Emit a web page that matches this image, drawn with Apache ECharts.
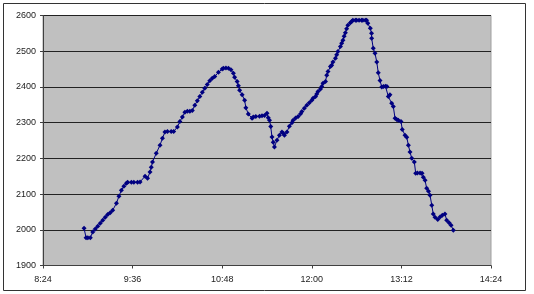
<!DOCTYPE html>
<html><head><meta charset="utf-8">
<script src="https://cdn.jsdelivr.net/npm/echarts@6/dist/echarts.min.js"></script>
<style>html,body{margin:0;padding:0;background:#fff}#c{width:534px;height:294px}</style>
</head><body><div id="c"></div>
<script>
// time in minutes since 0:00
var times = [537,538.6,540,542,544,546,548,550,552,554,556,558,560,563,565,567,569,571,572,575,577,580,582,586,588,590,591,592,595,598,600,602,604,607,609,612,614,616,618,620,622,624,626,628,630,632,634,636,638,640,642,645,648,649,651,653,655,657,658,660,661,662,664,666,667,669,672,673,675,678,680,682,684,685,686,687,688,689,690,692,694,696,697,698,700,702,704,705,707,709,711,712,714,716,718,720,721,723,724,725,727,728,729,731,732,733,735,736,737,739,740,741,743,744,745,746,747,748,749,751,752,753,755,756,758,760,761,763,764,765,767,768,768.1,769.4,770.8,772.2,773.4,774.8,776.2,777.6,779.2,780.4,781.5,782.8,784.2,785.5,786.9,788.2,789.5,791.7,792.7,794.9,796.3,797.6,798.9,800.3,802.4,803.5,804.9,807,808.6,809.6,811,812.3,813.8,815,816.4,817.6,819,821.2,823,824.9,827,828.4,830.3,831.9,833.7];
var prices = [2004,1978,1978,1978,1994,2002,2010,2018,2027,2035,2043,2048,2055,2074,2094,2111,2122,2130,2133,2133,2133,2133,2134,2150,2144,2162,2175,2190,2214,2237,2256,2274,2275,2275,2275,2288,2303,2316,2329,2332,2332,2334,2349,2361,2373,2385,2396,2407,2417,2424,2429,2441,2450,2452,2453,2452,2448,2438,2427,2415,2403,2391,2378,2363,2342,2324,2312,2316,2317,2318,2319,2320,2326,2314,2307,2289,2260,2245,2232,2251,2265,2274,2270,2265,2274,2290,2300,2307,2313,2317,2325,2331,2340,2349,2356,2363,2368,2373,2380,2387,2394,2401,2410,2415,2433,2443,2457,2461,2470,2480,2490,2499,2513,2522,2531,2542,2552,2563,2573,2580,2583,2587,2587,2587,2587,2587,2587,2587,2587,2578,2564,2550,2536,2508,2494,2470,2440,2418,2400,2401,2402,2401,2373,2378,2354,2345,2312,2309,2307,2303,2281,2265,2259,2237,2218,2200,2190,2158,2159,2159,2158,2147,2139,2116,2108,2097,2069,2044,2035,2029,2036,2041,2044,2027,2020,2013,1999];
var xMin = 504, xMax = 864, xStep = 72;
var yMin = 1900, yMax = 2600, yStep = 100;

function fmt(v){var h=Math.floor(v/60),m=Math.round(v%60);return h+':'+(m<10?'0'+m:m);}
var data = times.map(function(t,i){return [t,prices[i]];});
var chart = echarts.init(document.getElementById('c'));
chart.setOption({
  backgroundColor:'#ffffff',
  animation:false,
  graphic:[{type:'rect',shape:{x:3.5,y:3.5,width:522,height:287},style:{fill:'none',stroke:'#333',lineWidth:1},z:-1}],
  grid:{left:43,right:43,top:15.5,bottom:28.5,show:true,backgroundColor:'#c0c0c0',borderColor:'#a0a0a0',borderWidth:1},
  xAxis:{type:'value',min:xMin,max:xMax,interval:xStep,
    axisLine:{show:true,lineStyle:{color:'#404040',width:1}},
    axisTick:{show:true,length:3,inside:false,lineStyle:{color:'#404040'}},
    splitLine:{show:false},
    axisLabel:{formatter:fmt,fontSize:9,fontFamily:'Liberation Sans, Arial',color:'#222',margin:10}},
  yAxis:{type:'value',min:yMin,max:yMax,interval:yStep,
    axisLine:{show:true,lineStyle:{color:'#404040',width:1}},
    axisTick:{show:true,length:3,lineStyle:{color:'#404040'}},
    splitLine:{show:true,lineStyle:{color:'#222',width:1}},
    axisLabel:{formatter:function(v){return String(v);},fontSize:9,fontFamily:'Liberation Sans, Arial',color:'#222',margin:7}},
  series:[{type:'line',data:data,symbol:'diamond',symbolSize:5,showSymbol:true,
    lineStyle:{color:'#000080',width:1},itemStyle:{color:'#000080'}}]
});
</script></body></html>
